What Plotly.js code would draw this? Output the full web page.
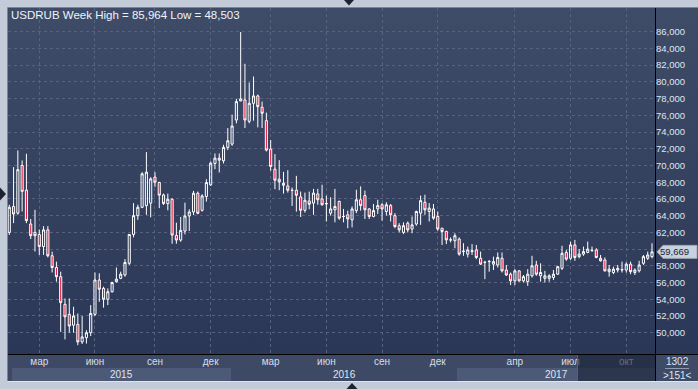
<!DOCTYPE html>
<html><head><meta charset="utf-8">
<script src="https://cdn.plot.ly/plotly-3.0.1.min.js"></script>
<style>
html,body{margin:0;padding:0;background:#c2cbd7;}
#wrap{position:relative;width:698px;height:389px;overflow:hidden;
 background: linear-gradient(#3f4c68,#2b3756) 8px 8px/690px 346px no-repeat, #c2cbd7;}
#chart{position:absolute;left:0;top:0;width:698px;height:389px;}
</style></head><body><div id="wrap"><div id="chart"></div></div>
<script>
// ---- data (USDRUB weekly candles) ----
const firstWeek = '2015-01-12';
const barCount = 151;

const open = [
62.0, 65.1, 64.3, 70.0, 67.05, 63.0, 62.0, 61.75, 60.3, 62.3,
59.2, 57.8, 56.7, 53.4, 52.2, 50.9, 51.0, 48.9, 49.4, 50.0,
52.2, 56.3, 55.3, 54.0, 54.9, 56.1, 56.5, 56.9, 58.3, 61.75,
64.0, 65.0, 65.2, 65.5, 68.6, 67.97,
66.48, 65.44, 65.96, 61.64, 61.08, 62.16, 63.96, 64.44, 66.68, 64.64,
66.28, 67.68, 70.24, 70.88, 70.56, 72.16, 72.56, 75.44, 77.72, 77.84,
75.28, 77.44, 78.32, 76.96, 75.36, 71.96, 69.56, 68.36, 67.88, 67.56,
67.04, 67.04, 66.24, 64.64, 65.76,
65.5, 66.6, 66.0, 65.4, 64.3, 64.7, 65.7, 63.9, 64.1, 63.5,
64.6, 65.9, 66.4, 64.8, 63.9, 64.8, 65.3, 64.5, 65.2, 64.0,
62.8, 62.0, 63.1, 62.4, 63.0, 64.3, 65.6, 64.5, 64.8, 63.9,
62.5, 62.1, 61.1, 61.0, 61.2,
59.7, 59.4, 59.7, 59.9, 58.9, 58.4, 58.5, 58.2, 58.1, 58.9,
57.5, 57.0, 56.2, 57.4, 56.2, 56.1, 56.8, 58.1, 56.8, 56.5,
56.5, 56.6, 57.0, 57.7, 59.6, 58.9, 60.5, 59.1, 59.4, 59.6,
59.8, 59.9, 58.9, 58.7, 57.3, 57.2, 57.5, 57.5, 57.5, 58.2,
57.2, 57.4, 58.3, 58.9, 59.1
];
const high = [
65.3, 69.8, 71.8, 70.6, 71.4, 63.6, 64.7, 62.35, 62.75, 62.75,
59.7, 58.5, 57.3, 54.1, 54.1, 53.1, 52.3, 52.0, 50.3, 53.3,
57.2, 57.1, 55.5, 55.3, 56.1, 57.8, 57.3, 58.8, 61.8, 65.5,
65.3, 69.2, 71.6, 68.6, 69.2, 68.05,
66.64, 66.64, 66.08, 63.16, 63.84, 65.56, 64.76, 66.96, 66.88, 66.56,
68.36, 70.48, 71.44, 71.44, 72.48, 74.48, 76.08, 77.96, 85.964, 82.16,
79.92, 80.64, 78.48, 77.64, 76.32, 73.04, 71.36, 70.64, 69.24, 69.44,
67.36, 68.76, 66.88, 66.76, 66.88,
67.2, 67.2, 67.7, 66.4, 66.2, 67.2, 65.8, 64.8, 64.6, 65.1,
67.1, 67.5, 67.0, 64.9, 65.4, 65.9, 65.5, 65.6, 65.4, 64.3,
63.1, 63.2, 63.3, 63.9, 64.6, 66.4, 66.5, 65.5, 65.4, 64.5,
62.5, 62.2, 61.4, 61.9, 61.4,
60.7, 60.3, 60.6, 60.5, 59.7, 58.6, 58.7, 59.1, 59.6, 59.6,
58.1, 57.2, 57.6, 57.5, 56.9, 57.6, 59.2, 58.6, 58.3, 57.4,
57.0, 57.5, 58.0, 60.4, 59.9, 60.9, 61.1, 60.0, 60.3, 60.9,
60.3, 60.1, 59.3, 59.0, 58.1, 57.9, 58.1, 58.5, 58.4, 58.5,
57.7, 58.6, 59.3, 59.7, 60.7
];
const low = [
61.7, 63.1, 64.1, 64.5, 63.1, 61.2, 59.7, 59.3, 59.3, 59.0,
57.2, 56.1, 50.1, 49.2, 50.0, 50.0, 48.503, 48.65, 48.7, 49.6,
52.0, 53.7, 53.0, 53.3, 54.8, 56.0, 56.4, 56.7, 58.1, 61.4,
63.5, 64.9, 64.1, 63.8, 67.45, 64.9,
65.28, 64.64, 60.64, 60.64, 60.88, 61.76, 62.16, 64.08, 64.16, 64.48,
65.68, 67.56, 69.56, 69.16, 70.24, 71.84, 72.36, 75.04, 77.68, 74.48,
75.04, 75.36, 74.56, 74.48, 71.68, 69.36, 67.16, 67.04, 66.64, 66.76,
65.16, 64.48, 63.84, 64.36, 64.76,
64.1, 65.3, 65.2, 63.3, 64.0, 63.2, 63.5, 63.2, 62.5, 62.6,
64.3, 64.6, 63.6, 63.6, 63.8, 64.2, 63.4, 64.0, 63.3, 62.5,
62.0, 61.8, 62.0, 61.9, 62.8, 62.9, 64.1, 63.3, 63.5, 62.2,
60.5, 60.6, 60.8, 60.1, 59.2,
59.2, 59.0, 59.3, 58.8, 58.1, 56.4, 57.3, 57.5, 57.8, 57.2,
56.8, 55.7, 55.7, 56.1, 56.0, 55.6, 56.6, 56.8, 56.1, 56.0,
56.1, 56.3, 56.9, 57.5, 58.6, 58.7, 58.6, 58.9, 59.2, 59.5,
59.7, 58.9, 58.5, 57.3, 56.7, 57.0, 57.2, 57.2, 57.2, 57.0,
56.9, 57.2, 58.1, 58.7, 58.9
];
const close = [
65.0, 64.2, 69.5, 66.9, 63.4, 61.6, 61.6, 60.3, 62.3, 59.2,
57.8, 56.7, 53.6, 51.9, 50.8, 52.0, 48.9, 49.5, 50.0, 52.3,
56.3, 55.2, 54.0, 54.9, 56.0, 56.4, 57.0, 58.4, 61.75, 64.0,
65.0, 69.0, 69.2, 68.4, 68.0, 66.45,
65.44, 65.96, 61.68, 61.08, 62.24, 63.96, 64.44, 66.68, 64.28, 66.36,
67.96, 70.28, 70.88, 70.64, 72.16, 72.96, 74.72, 77.64, 77.96, 75.44,
77.44, 78.32, 77.04, 76.24, 71.84, 69.88, 68.24, 68.04, 67.64, 67.04,
67.02, 66.44, 64.64, 65.84, 65.36,
66.7, 65.9, 65.3, 65.45, 64.8, 65.1, 63.7, 63.9, 63.6, 64.8,
65.9, 65.2, 64.7, 63.9, 64.6, 65.2, 64.8, 65.3, 64.1, 62.7,
62.3, 62.8, 62.3, 62.9, 64.5, 65.8, 64.7, 64.9, 63.7, 62.4,
62.1, 61.1, 61.1, 61.6, 59.4,
59.75, 59.9, 59.8, 59.0, 58.2, 58.42, 58.52, 58.5, 59.0, 57.4,
56.9, 56.2, 57.4, 56.2, 56.7, 57.0, 58.0, 57.0, 57.2, 56.8,
56.8, 57.0, 57.9, 59.5, 58.8, 60.5, 59.0, 59.4, 59.7, 60.0,
59.85, 59.0, 58.6, 57.4, 57.6, 57.6, 57.7, 57.55, 58.2, 57.3,
57.5, 58.1, 59.1, 59.3, 59.669
];

const yTicks = [50,52,54,56,58,60,62,64,66,68,70,72,74,76,78,80,82,84,86];
// 60,000 sits behind the last-price box in the reference, so its label is not shown
const yTickText = ['50,000','52,000','54,000','56,000','58,000','','62,000','64,000','66,000',
  '68,000','70,000','72,000','74,000','76,000','78,000','80,000','82,000','84,000','86,000'];
const monthTickIdx = [7,20,34,47,61,74,87,100,118,131,144];
const monthTickText = ['мар','июн','сен','дек','мар','июн','сен','дек','апр','июл','окт'];
const yearLabels = ['2015','2016','2017'];
const titleText = 'USDRUB Week High = 85,964 Low = 48,503';
const barsInfo = ['1302','&gt;151&lt;'];

// ---- categories (one per weekly bar) ----
const weeks = [];
{ const d0 = new Date(firstWeek + 'T00:00:00Z');
  for (let i = 0; i < barCount; i++) {
    const d = new Date(d0.getTime() + i*7*86400000);
    weeks.push(d.toISOString().slice(0,10));
  } }

// ---- pixel helpers for decorations ----
const W = 698, H = 389, PL = 8, PR = 655, PT = 8, PB = 354;
const fx = x => (x - PL)/(PR - PL);
const fy = y => (PB - y)/(PB - PT);
const rect = (x0,y0,x1,y1,fill,layer) => ({type:'rect',xref:'paper',yref:'paper',
  x0:fx(x0),x1:fx(x1),y0:fy(y1),y1:fy(y0),fillcolor:fill,line:{width:0},layer:layer||'below'});
const line = (x0,y0,x1,y1,color,layer) => ({type:'line',xref:'paper',yref:'paper',
  x0:fx(x0),x1:fx(x1),y0:fy(y0),y1:fy(y1),line:{color:color,width:1},layer:layer||'above'});
const tri = (pts,color) => ({type:'path',xref:'paper',yref:'paper',layer:'above',
  path:'M'+pts.map(p=>fx(p[0])+','+fy(p[1])).join('L')+'Z',fillcolor:color,line:{width:0}});

const lastClose = close[close.length-1];
const fmt = v => v.toFixed(3).replace('.', ',');

const font = 'Liberation Sans, Arial, sans-serif';

const trace = {
  type:'candlestick', x:weeks, open:open, high:high, low:low, close:close,
  increasing:{line:{color:'#ffffff',width:1}, fillcolor:'rgba(0,0,0,0)'},
  decreasing:{line:{color:'#ffffff',width:1}, fillcolor:'#e0173d'},
  hoverinfo:'skip', showlegend:false
};

const shapes = [
  rect(8,355,655,368,'#3e4a65'),
  rect(8,368,655,381,'#3e4a65'),
  rect(12,368,231,381,'#4c5977'),
  rect(457,368,655,381,'#4c5977'),
  rect(655,355,698,381,'#3e4a66'),
  rect(578,355,655,381,'rgba(24,31,50,0.6)','above'),
  line(577.5,355,577.5,381,'#55617b'),
  line(7.5,7.5,698,7.5,'#7a8598'),
  line(7.5,7.5,7.5,381,'#7a8598'),
  line(7.5,381.5,698,381.5,'#dfe5ec'),
  line(8,354.5,698,354.5,'#000000'),
  line(655.5,8,655.5,381,'#000000'),
  line(665,368.5,689,368.5,'#8e9ab0'),
  tri([[344,0],[354,0],[349,5.5]],'#1b2230'),
  tri([[346.5,389],[357.5,389],[352,383]],'#1b2230'),
  tri([[0,187.5],[0,200.5],[6,194]],'#1b2230'),
  {type:'path', xref:'paper', yref:'y', xsizemode:'pixel', ysizemode:'pixel',
   xanchor:1, yanchor:lastClose, layer:'above',
   path:'M 2 0 L 8 -6.5 L 42 -6.5 L 42 6.5 L 8 6.5 Z',
   fillcolor:'#c9d1dd', line:{color:'#9aa5b6', width:1}}
];

const ann = (x,y,text,size,color,xa,ya) => ({xref:'paper',yref:'paper',x:fx(x),y:fy(y),
  xanchor:xa||'center',yanchor:ya||'middle',showarrow:false,text:text,borderpad:0,
  font:{family:font,size:size,color:color}});

const annotations = [
  ann(10,8.5,titleText,11.5,'#eef3fa','left','top'),
  ann(121.5,374.5,yearLabels[0],10,'#dfe6f0'),
  ann(344,374.5,yearLabels[1],10,'#dfe6f0'),
  ann(556,374.5,yearLabels[2],10,'#dfe6f0'),
  ann(677,361.5,barsInfo[0],10,'#dfe6f0'),
  ann(677,375,barsInfo[1],10,'#dfe6f0'),
  {xref:'paper',yref:'y',x:fx(659),y:lastClose,xanchor:'left',yanchor:'middle',showarrow:false,
   text:fmt(lastClose),borderpad:0,font:{family:font,size:9.5,color:'#1a2130'}}
];

const layout = {
  width:W, height:H,
  margin:{l:PL, r:W-PR, t:PT, b:H-PB, pad:0},
  paper_bgcolor:'rgba(0,0,0,0)', plot_bgcolor:'rgba(0,0,0,0)',
  separators:', ',
  showlegend:false,
  xaxis:{type:'category', range:[-0.3, barCount-0.3], rangeslider:{visible:false},
    tickmode:'array', tickvals:monthTickIdx.map(i=>weeks[i]), ticktext:monthTickText,
    showgrid:true, gridcolor:'#56637e', griddash:'3px,3px', gridwidth:1,
    showline:false, zeroline:false, ticks:'', ticklabelstandoff:0,
    tickfont:{family:font,size:10,color:'#d6dee9'}, fixedrange:true},
  yaxis:{side:'right', range:[47.453, 88.835], tickmode:'array', tickvals:yTicks, ticktext:yTickText,
    showgrid:true, gridcolor:'#56637e', griddash:'3px,3px', gridwidth:1,
    showline:false, zeroline:false, ticks:'',
    tickfont:{family:font,size:9.5,color:'#dfe6f0'}, fixedrange:true},
  shapes:shapes, annotations:annotations
};

Plotly.newPlot('chart',[trace],layout,{staticPlot:true, displayModeBar:false});
</script></body></html>
